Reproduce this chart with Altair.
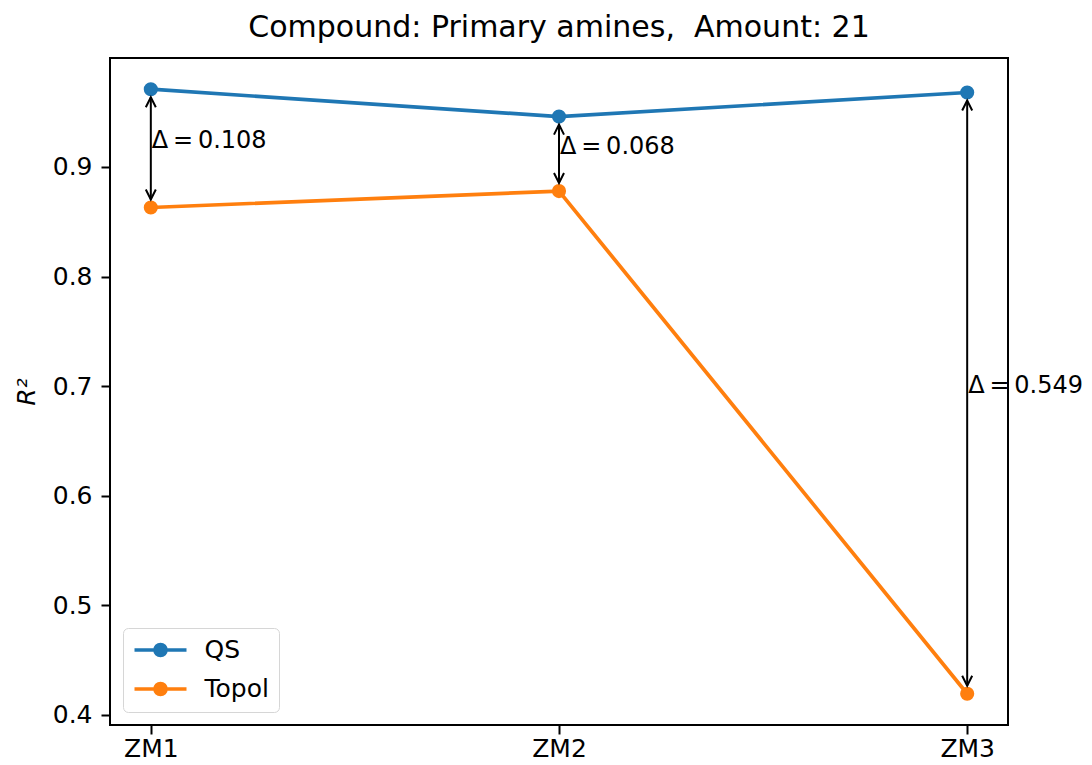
import altair as alt
import pandas as pd

categories = ["ZM1", "ZM2", "ZM3"]
series_names = ["QS", "Topol"]
qs_values = [0.971, 0.946, 0.968]
topol_values = [0.863, 0.878, 0.419]
delta_values = [0.108, 0.068, 0.549]
y_ticks = [0.4, 0.5, 0.6, 0.7, 0.8, 0.9]
colors = ["#1f77b4", "#ff7f0e"]

FONT = "DejaVu Sans"

long_rows = []
for c, q, t in zip(categories, qs_values, topol_values):
    long_rows.append({"cat": c, "series": "QS", "value": q})
    long_rows.append({"cat": c, "series": "Topol", "value": t})
df = pd.DataFrame(long_rows)

ddf = pd.DataFrame({
    "cat": categories,
    "qs": qs_values,
    "topol": topol_values,
    "mid": [(a + b) / 2 for a, b in zip(qs_values, topol_values)],
    "label": ["\u0394\u2009=\u2009" + f"{d:.3f}" for d in delta_values],
})

xenc = alt.X("cat:N", sort=categories,
             scale=alt.Scale(type="point", padding=0.1, domain=categories),
             axis=alt.Axis(title=None, labelAngle=0, labelPadding=2))
yscale = alt.Scale(domain=[0.3905, 0.9995], zero=False, nice=False)
yaxis = alt.Axis(title="R\u00b2", values=y_ticks, format=".1f",
                 titleFontStyle="italic", titlePadding=13)

colscale = alt.Scale(domain=series_names, range=colors)

# legend symbol: a line with a solid disc drawn by concentric stroked rings
legend_path = ("M-1,0L1,0"
               "M-0.07,0A0.07,0.07,0,1,1,0.07,0A0.07,0.07,0,1,1,-0.07,0"
               "M-0.21,0A0.21,0.21,0,1,1,0.21,0A0.21,0.21,0,1,1,-0.21,0")

leg = alt.Legend(title=None, orient="none", legendX=13, legendY=570,
                 symbolType=legend_path, symbolSize=2704, symbolStrokeWidth=3.7,
                 labelFont=FONT, labelFontSize=25, labelColor="black",
                 labelOffset=16, padding=9.5, clipHeight=25, rowPadding=13,
                 strokeColor="#d6d6d6", cornerRadius=5, fillColor="white")

lines = alt.Chart(df).mark_line(strokeWidth=3.7).encode(
    x=xenc,
    y=alt.Y("value:Q", scale=yscale, axis=yaxis),
    color=alt.Color("series:N", scale=colscale, legend=leg),
)

points = alt.Chart(df).mark_circle(size=200, opacity=1).encode(
    x=xenc,
    y=alt.Y("value:Q", scale=yscale),
    color=alt.Color("series:N", scale=colscale, legend=None),
)

rules = alt.Chart(ddf).mark_rule(color="black", strokeWidth=2,
                                 yOffset=8, y2Offset=-8).encode(
    x=xenc,
    y=alt.Y("qs:Q", scale=yscale),
    y2="topol:Q",
)

up_head = alt.Chart(ddf).mark_point(
    shape="M-0.5,1L0,0L0.5,1", filled=False, stroke="black",
    strokeWidth=2, size=400, yOffset=8, opacity=1).encode(
    x=xenc, y=alt.Y("qs:Q", scale=yscale))

down_head = alt.Chart(ddf).mark_point(
    shape="M-0.5,-1L0,0L0.5,-1", filled=False, stroke="black",
    strokeWidth=2, size=400, yOffset=-8, opacity=1).encode(
    x=xenc, y=alt.Y("topol:Q", scale=yscale))

texts = alt.Chart(ddf).mark_text(align="left", baseline="alphabetic", dx=1,
                                 fontSize=24, font=FONT, color="black").encode(
    x=xenc, y=alt.Y("mid:Q", scale=yscale), text="label:N")

chart = alt.layer(lines, points, rules, up_head, down_head, texts).properties(
    width=898, height=667,
    autosize=alt.AutoSizeParams(type="none"),
    padding={"left": 102, "top": 50, "right": 76, "bottom": 38},
    title=alt.TitleParams("Compound: Primary amines,\u00a0 Amount: 21",
                          fontSize=30, font=FONT, fontWeight="normal",
                          color="black", anchor="middle", frame="group",
                          offset=15),
).configure_view(
    stroke="black", strokeWidth=2
).configure_axis(
    grid=False, domain=False, tickColor="black", tickWidth=2, tickSize=9,
    labelFont=FONT, labelFontSize=25, labelColor="black", labelPadding=9,
    titleFont=FONT, titleFontSize=25, titleColor="black", titleFontWeight="normal",
)

chart.save("out.html", embed_options={"renderer": "svg", "actions": False})
